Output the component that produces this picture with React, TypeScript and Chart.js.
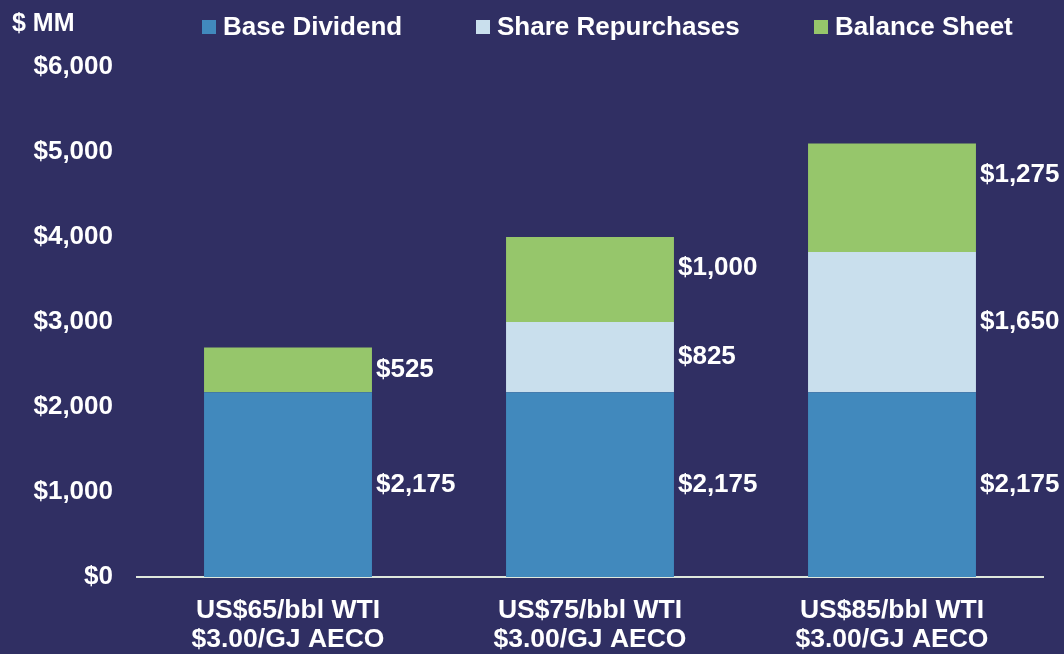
import React, { useEffect, useRef } from "react";
import { Chart, registerables } from "chart.js";

Chart.register(...registerables);

const categories: string[][] = [
  ["US$65/bbl WTI", "$3.00/GJ AECO"],
  ["US$75/bbl WTI", "$3.00/GJ AECO"],
  ["US$85/bbl WTI", "$3.00/GJ AECO"],
];
const seriesNames = ["Base Dividend", "Share Repurchases", "Balance Sheet"];
const baseDividend = [2175, 2175, 2175];
const shareRepurchases = [0, 825, 1650];
const balanceSheet = [525, 1000, 1275];
const yTicks = [0, 1000, 2000, 3000, 4000, 5000, 6000];

const colors = ["#4189bd", "#c9dfed", "#96c66b"];
const BG = "#302f63";
const FONT = "'Liberation Sans', Arial, sans-serif";

const fmt = (v: number) => "$" + v.toLocaleString("en-US");

const overlayPlugin = {
  id: "overlay",
  afterDatasetsDraw(chart: any) {
    const ctx = chart.ctx;
    ctx.save();
    ctx.fillStyle = "#ffffff";
    ctx.font = `bold 26px ${FONT}`;
    ctx.textAlign = "left";
    ctx.textBaseline = "middle";
    const n = chart.data.datasets.length;
    chart.data.datasets.forEach((ds: any, di: number) => {
      const meta = chart.getDatasetMeta(di);
      meta.data.forEach((bar: any, i: number) => {
        const v = ds.data[i];
        if (!v) return;
        const p = bar.getProps(["x", "y", "base", "width"], true);
        const top = Math.min(p.y, p.base);
        let y = (p.y + p.base) / 2;
        if (di === n - 1) y = Math.min(y, top + 31);
        ctx.fillText(fmt(v), p.x + p.width / 2 + 4, y);
      });
    });
    ctx.restore();
  },
  afterDraw(chart: any) {
    const ctx = chart.ctx;
    ctx.save();
    ctx.fillStyle = "#ffffff";
    ctx.textBaseline = "middle";
    ctx.textAlign = "left";
    ctx.font = `bold 25px ${FONT}`;
    ctx.fillText("$ MM", 12, 24);
    // legend
    ctx.font = `bold 26px ${FONT}`;
    const xs = [202, 476, 814];
    chart.data.datasets.forEach((ds: any, di: number) => {
      ctx.fillStyle = ds.backgroundColor;
      ctx.fillRect(xs[di], 20, 14, 14);
      ctx.fillStyle = "#ffffff";
      ctx.fillText(ds.label, xs[di] + 21, 28);
    });
    ctx.restore();
  },
};

export default function App() {
  const ref = useRef<HTMLCanvasElement | null>(null);
  useEffect(() => {
    document.body.style.margin = "0";
    const chart = new Chart(ref.current!, {
      type: "bar",
      data: {
        labels: categories,
        datasets: [baseDividend, shareRepurchases, balanceSheet].map((d, i) => ({
          label: seriesNames[i],
          data: d,
          backgroundColor: colors[i],
          borderWidth: 0,
          barPercentage: 1,
          categoryPercentage: 0.556,
        })),
      },
      options: {
        animation: false,
        responsive: true,
        maintainAspectRatio: false,
        layout: { padding: { left: 0, right: 21, top: 67, bottom: 0 } },
        plugins: {
          legend: { display: false },
          tooltip: { enabled: false },
        },
        scales: {
          x: {
            stacked: true,
            grid: { display: false },
            border: { display: true, color: "#dfe8dc", width: 2 },
            ticks: {
              color: "#ffffff",
              font: { family: FONT, size: 26.5, weight: "bold", lineHeight: 1.1 },
              padding: 11,
              maxRotation: 0,
            },
            afterFit: (s: any) => {
              s.height = 77;
            },
          },
          y: {
            stacked: true,
            min: 0,
            max: 6000,
            grid: { display: false },
            border: { display: false },
            afterBuildTicks: (s: any) => {
              s.ticks = yTicks.map((v) => ({ value: v }));
            },
            afterFit: (s: any) => {
              s.width = 137;
            },
            ticks: {
              color: "#ffffff",
              font: { family: FONT, size: 26, weight: "bold" },
              padding: 16,
              callback: (v: any) => fmt(Number(v)),
            },
          },
        },
      },
      plugins: [overlayPlugin],
    });
    return () => chart.destroy();
  }, []);
  return (
    <div
      style={{
        position: "absolute",
        left: 0,
        top: 0,
        width: 1064,
        height: 654,
        background: BG,
      }}
    >
      <canvas ref={ref} />
    </div>
  );
}
